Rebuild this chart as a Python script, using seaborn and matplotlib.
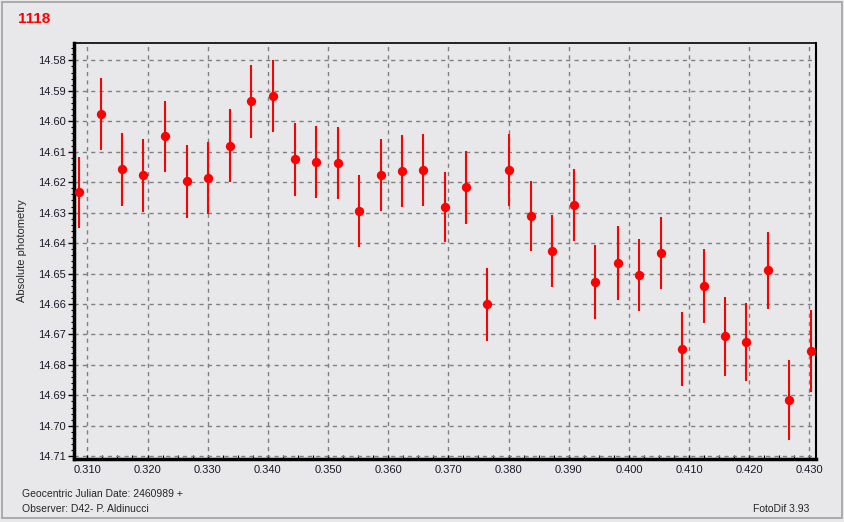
import matplotlib
matplotlib.use("Agg")
import matplotlib.pyplot as plt
from matplotlib.patches import Rectangle
from matplotlib.ticker import MultipleLocator, FormatStrFormatter
import seaborn as sns
import pandas as pd

# Geocentric JD - 2460989
jd = [0.30862, 0.31230, 0.31578, 0.31928, 0.32295, 0.32662, 0.33012, 0.33378,
      0.33728, 0.34078, 0.34445, 0.34795, 0.35162, 0.35512, 0.35878, 0.36228,
      0.36578, 0.36945, 0.37295, 0.37645, 0.38012, 0.38378, 0.38728, 0.39090,
      0.39445, 0.39812, 0.40162, 0.40528, 0.40878, 0.41245, 0.41595, 0.41945,
      0.42312, 0.42662, 0.43028]
# magnitudini
mag = [14.6233, 14.5977, 14.6158, 14.6178, 14.6050, 14.6197, 14.6187, 14.6080,
       14.5935, 14.5918, 14.6125, 14.6135, 14.6138, 14.6295, 14.6177, 14.6164,
       14.6161, 14.6282, 14.6217, 14.6601, 14.6161, 14.6312, 14.6427, 14.6276,
       14.6528, 14.6466, 14.6505, 14.6433, 14.6748, 14.6541, 14.6706, 14.6725,
       14.6489, 14.6915, 14.6755]
# errori
err = [0.0117, 0.0118, 0.0119, 0.0119, 0.0118, 0.0120, 0.0119, 0.0119,
       0.0120, 0.0118, 0.0119, 0.0118, 0.0118, 0.0117, 0.0118, 0.0118,
       0.0118, 0.0116, 0.0119, 0.0120, 0.0118, 0.0115, 0.0118, 0.0118,
       0.0121, 0.0121, 0.0119, 0.0119, 0.0122, 0.0122, 0.0129, 0.0127,
       0.0126, 0.0131, 0.0134]

df = pd.DataFrame({"jd": jd, "mag": mag, "err": err})

sns.set_style("white")
plt.rcParams["font.family"] = ["Liberation Sans", "DejaVu Sans"]

bg = "#e8e8ea"
fig = plt.figure(figsize=(8.44, 5.22), dpi=100, facecolor=bg)
ax = fig.add_axes([74 / 844, 1 - 459 / 522, (816 - 74) / 844, (459 - 43) / 522])
ax.set_facecolor(bg)

# bordo esterno della finestra
fig.patches.append(Rectangle((2 / 844, 4 / 522), 840 / 844, 516 / 522,
                             transform=fig.transFigure, fill=False,
                             edgecolor="#a0a0a0", linewidth=1.2))

ax.errorbar(df["jd"], df["mag"], yerr=df["err"], fmt="none",
            ecolor="#ff0000", elinewidth=1.5, capsize=0, zorder=3)
sns.scatterplot(data=df, x="jd", y="mag", ax=ax, color="#ff0000", s=45,
                marker="o", edgecolor="#ff0000", linewidth=0, zorder=4)

ax.set_xlim(0.30778, 0.4311)
ax.set_ylim(14.7109, 14.5743)

ax.xaxis.set_major_locator(MultipleLocator(0.01))
ax.xaxis.set_minor_locator(MultipleLocator(0.0025))
ax.yaxis.set_major_locator(MultipleLocator(0.01))
ax.yaxis.set_minor_locator(MultipleLocator(0.002))
ax.xaxis.set_major_formatter(FormatStrFormatter("%.3f"))
ax.yaxis.set_major_formatter(FormatStrFormatter("%.2f"))

ax.grid(True, which="major", color="#808080", linestyle=(0, (3, 3)), linewidth=1)
ax.tick_params(which="both", colors="#000000", labelsize=8,
               labelcolor="#1a1a2a", pad=2)
ax.tick_params(axis="y", which="major", direction="out", length=4, width=1)
ax.tick_params(axis="y", which="minor", direction="out", length=2, width=0.8)
ax.tick_params(axis="x", which="major", direction="in", length=3, width=1, pad=4)
ax.tick_params(axis="x", which="minor", direction="in", length=3, width=0.8)
ax.tick_params(axis="x", which="both", bottom=True)
ax.tick_params(axis="y", which="both", left=True)

for side, lw in [("left", 2.5), ("bottom", 2.5), ("top", 1.2), ("right", 1.5)]:
    ax.spines[side].set_visible(True)
    ax.spines[side].set_color("#000000")
    ax.spines[side].set_linewidth(lw)

ax.set_xlabel("")
ax.set_ylabel("Absolute photometry", fontsize=8)
ax.yaxis.set_label_coords(-0.064, 0.5)

fig.text(18 / 844, 1 - 19 / 522, "1118", color="#ff0000", fontsize=11,
         fontweight="bold", va="center", ha="left")
fig.text(22 / 844, 1 - 494 / 522, "Geocentric Julian Date: 2460989 +",
         fontsize=7.5, va="center", ha="left")
fig.text(22 / 844, 1 - 509 / 522, "Observer: D42- P. Aldinucci",
         fontsize=7.5, va="center", ha="left")
fig.text(809 / 844, 1 - 509 / 522, "FotoDif 3.93",
         fontsize=7.5, va="center", ha="right")

fig.savefig("out.png", dpi=100, facecolor=bg)
